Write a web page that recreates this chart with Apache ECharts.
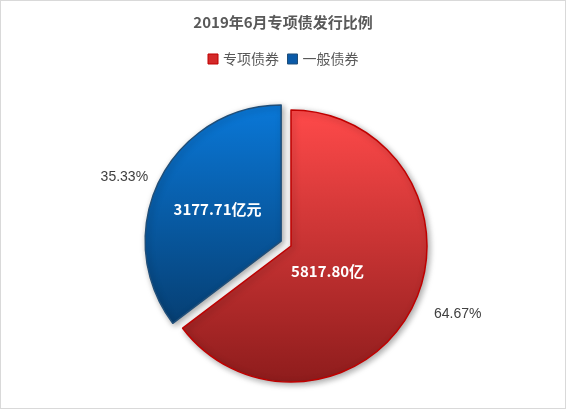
<!DOCTYPE html>
<html>
<head>
<meta charset="utf-8">
<script src="https://cdn.jsdelivr.net/npm/echarts@6/dist/echarts.min.js"></script>
<style>
html,body{margin:0;padding:0;background:#fff;}
#chart{width:564px;height:407px;border:1px solid #d9d9d9;}
</style>
</head>
<body>
<div id="chart"></div>
<script>
var names = ['专项债券', '一般债券'];
var values = [5817.80, 3177.71];
var innerLabels = ['5817.80亿', '3177.71亿元'];
var percents = ['64.67%', '35.33%'];

var chart = echarts.init(document.getElementById('chart'));

function grad(c1, c2) {
    return new echarts.graphic.LinearGradient(0, 0, 0, 1, [
        {offset: 0, color: c1}, {offset: 1, color: c2}
    ]);
}
var fills = [grad('#ff4a4a', '#8e1c1c'), grad('#0a78d8', '#063f73')];
var borders = ['#c00000', '#1f4e79'];
var legendColors = ['#d42a2a', '#0a5aa8'];
var labelOffsets = [[-27, -6], [0, 3]];

var mainData = names.map(function (n, i) {
    return {
        name: n, value: values[i], selected: i === 1,
        itemStyle: {color: fills[i], borderColor: borders[i], borderWidth: 1.5,
            shadowBlur: 6, shadowColor: 'rgba(0,0,0,0.35)', shadowOffsetX: 2, shadowOffsetY: 2},
        label: {formatter: innerLabels[i], offset: labelOffsets[i]}
    };
});
var outerData = names.map(function (n, i) {
    return {name: n, value: values[i],
        label: {show: true, position: 'outside', formatter: percents[i], fontSize: 14, color: '#404040'}};
});

chart.setOption({
    animation: false,
    title: {
        text: '2019年6月专项债发行比例', left: 'center', top: 9,
        textStyle: {fontSize: 15, fontWeight: 'bold', color: '#595959', fontFamily: 'Noto Sans CJK SC'}
    },
    legend: {
        top: 46, left: 'center', itemWidth: 10, itemHeight: 10, itemGap: 8,
        icon: 'rect',
        data: names.map(function (n, i) {
            return {name: n, itemStyle: {color: legendColors[i], borderColor: borders[i], borderWidth: 1}};
        }),
        textStyle: {fontSize: 14, color: '#595959', fontFamily: 'Noto Sans CJK SC'}
    },
    series: [{
        type: 'pie', center: [290, 245], radius: [0, 136],
        startAngle: 90, clockwise: true,
        selectedMode: 'single', selectedOffset: 11,
        label: {position: 'inside', color: '#fff', fontSize: 15, fontWeight: 'bold', fontFamily: 'Noto Sans CJK SC'},
        labelLine: {show: false},
        data: mainData,
        z: 2
    }, {
        type: 'pie', center: [290, 245], radius: [0, 136],
        startAngle: 90, clockwise: true, silent: true,
        itemStyle: {color: 'rgba(0,0,0,0)'},
        labelLine: {show: false, length: 18, length2: 0},
        data: outerData,
        z: 1
    }]
});
</script>
</body>
</html>
